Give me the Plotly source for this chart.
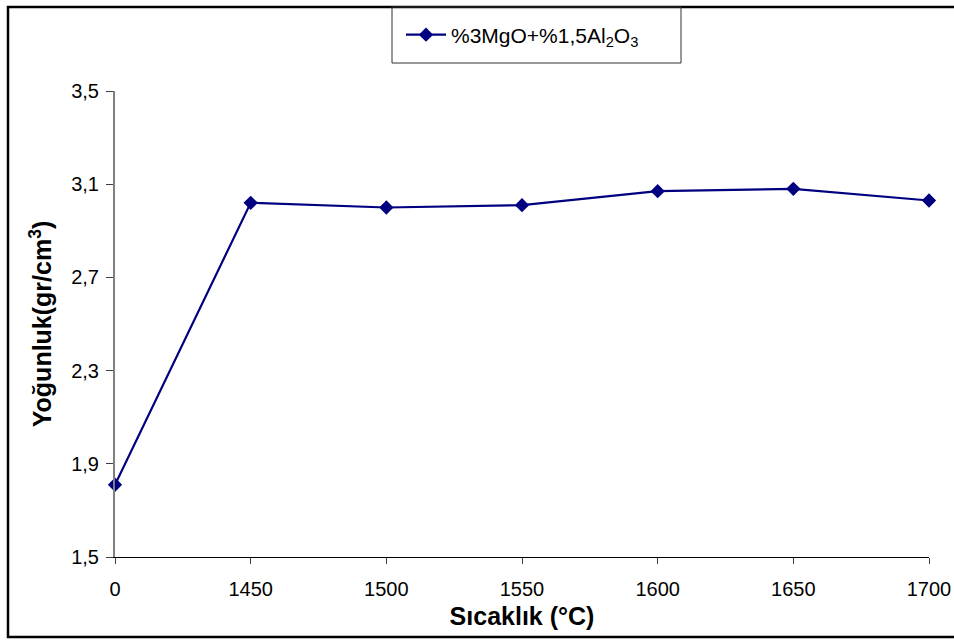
import plotly.graph_objects as go

categories = ["0", "1450", "1500", "1550", "1600", "1650", "1700"]
density = [1.81, 3.02, 3.00, 3.01, 3.07, 3.08, 3.03]
y_ticks = [1.5, 1.9, 2.3, 2.7, 3.1, 3.5]
series_name = "%3MgO+%1,5Al<sub>2</sub>O<sub>3</sub>"

W, H = 954, 642
L, R, T, B = 115, 25, 91, 85
pw, ph = W - L - R, H - T - B

def px(x):
    return (x - L) / pw

def py(y):
    return (H - B - y) / ph

FONT = "Liberation Sans, Arial, sans-serif"

fig = go.Figure()
fig.add_trace(go.Scatter(
    x=categories, y=density, mode="lines+markers", name=series_name,
    line=dict(color="#000080", width=2.2),
    marker=dict(symbol="diamond", size=11, color="#000080"),
    cliponaxis=False,
))

fig.update_layout(
    width=W, height=H, autosize=False,
    margin=dict(l=L, r=R, t=T, b=B),
    paper_bgcolor="white", plot_bgcolor="white",
    separators=",.",
    font=dict(family=FONT, color="black", size=20),
    showlegend=True,
    legend=dict(x=px(401), y=py(35), xanchor="left", yanchor="middle",
                bgcolor="rgba(0,0,0,0)", borderwidth=0, itemwidth=40,
                font=dict(size=21, family=FONT)),
    xaxis=dict(
        type="category", range=[0, 6], showgrid=False, automargin=False,
        showline=True, linecolor="black", linewidth=1,
        ticks="outside", ticklen=6, tickcolor="#404040",
        tickfont=dict(size=20), ticklabelstandoff=8,
        title=dict(text="<b>Sıcaklık (°C)</b>", font=dict(size=25), standoff=8),
    ),
    yaxis=dict(
        range=[1.5, 3.5], tickvals=y_ticks, tickformat=".1f", showgrid=False, automargin=False,
        showline=True, linecolor="#808080", linewidth=2,
        ticks="outside", ticklen=7, tickcolor="#404040",
        tickfont=dict(size=20), ticklabelstandoff=3,
        title=dict(text="<b>Yoğunluk(gr/cm<sup>3</sup>)</b>", font=dict(size=25), standoff=12),
    ),
    shapes=[
        dict(type="rect", xref="paper", yref="paper",
             x0=px(8), x1=px(980), y0=py(637), y1=py(7),
             line=dict(color="black", width=2.5), fillcolor="rgba(0,0,0,0)", layer="below"),
        dict(type="rect", xref="paper", yref="paper",
             x0=px(392), x1=px(681), y0=py(63), y1=py(7),
             line=dict(color="#333333", width=1), fillcolor="rgba(0,0,0,0)"),
    ],
)

fig.write_html(
    "out.html",
    config={"displayModeBar": False, "responsive": False},
    post_script="document.body.style.margin='0';document.body.style.overflow='hidden';",
)
